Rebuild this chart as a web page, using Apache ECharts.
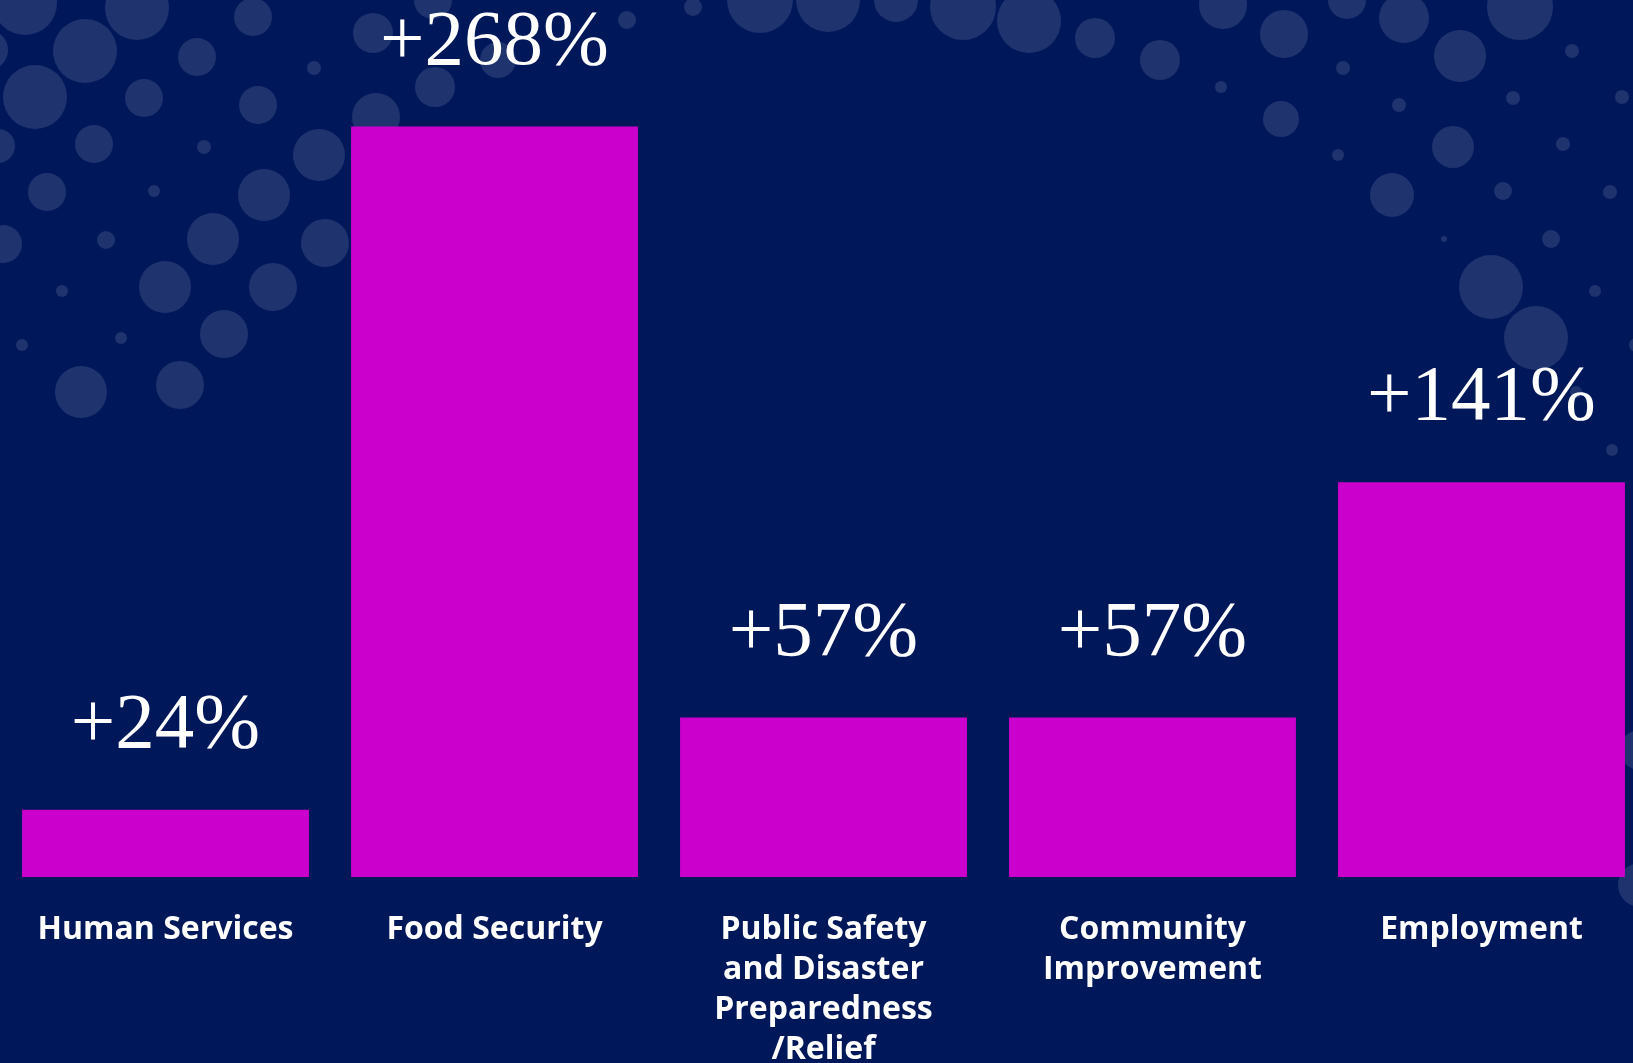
<!DOCTYPE html>
<html>
<head>
<meta charset="utf-8">
<script src="https://cdn.jsdelivr.net/npm/echarts@6/dist/echarts.min.js"></script>
<style>
html,body{margin:0;padding:0;background:#00185a;}
#chart{width:1633px;height:1063px;}
</style>
</head>
<body>
<div id="chart"></div>
<script>
var categories = ['Human Services', 'Food Security', 'Public Safety\nand Disaster\nPreparedness\n/Relief', 'Community\nImprovement', 'Employment'];
var values = [24, 268, 57, 57, 141];

// decorative background bubbles [x, y, r]
var bubbles = [
  [25,3,32],[137,8,32],[85,51,32],[-12,50,20],[35,97,32],[197,57,19],[253,17,19],[144,98,19],[314,68,7],
  [258,105,19],[-2,146,17],[94,144,19],[204,147,7],[319,155,26],[47,192,19],[154,191,6],[264,195,26],
  [3,244,19],[106,240,9],[213,239,26],[325,243,24],[62,291,6],[165,287,26],[273,287,24],[121,338,6],
  [22,345,6],[224,334,24],[81,392,26],[180,385,24],
  [373,33,20],[435,87,20],[498,60,18],[376,117,24],[627,20,9],[433,0,19],[693,7,9],
  [760,0,33],[828,0,32],[896,0,22],[963,7,33],[1029,21,32],[1095,38,20],[1160,60,20],
  [1223,5,24],[1284,34,24],[1347,0,19],[1404,18,25],[1520,7,33],[1460,56,26],[1221,87,6],[1343,68,7],
  [1399,105,7],[1572,51,7],[1513,98,7],[1622,97,7],[1281,119,18],[1338,155,6],[1453,147,21],[1563,144,7],
  [1392,195,22],[1503,191,9],[1610,192,7],[1444,239,3],[1551,239,9],[1491,287,32],[1595,291,6],
  [1536,338,32],[1636,345,7],[1576,392,6],[1612,450,6],[1640,750,20],[1640,885,22]
];

var chart = echarts.init(document.getElementById('chart'));
chart.setOption({
  backgroundColor: '#00185a',
  animation: false,
  graphic: bubbles.map(function (b) {
    return { type: 'circle', z: -10, silent: true, shape: { cx: b[0], cy: b[1], r: b[2] }, style: { fill: '#1f336f' } };
  }),
  grid: { left: 1, width: 1645, top: 37, bottom: 186, containLabel: false, outerBoundsMode: 'none' },
  xAxis: {
    type: 'category',
    data: categories,
    axisLine: { show: false },
    axisTick: { show: false },
    axisLabel: {
      interval: 0,
      margin: 33,
      color: '#ffffff',
      fontFamily: 'Open Sans',
      fontWeight: 'bold',
      fontSize: 32,
      lineHeight: 40,
      align: 'center'
    }
  },
  yAxis: { type: 'value', min: 0, max: 300, show: false, splitLine: { show: false } },
  series: [{
    type: 'bar',
    data: values,
    barCategoryGap: '12.8%',
    itemStyle: { color: '#cc00cc' },
    label: {
      show: true,
      position: 'top',
      distance: 44,
      formatter: '+{c}%',
      color: '#ffffff',
      fontFamily: 'Liberation Serif',
      fontSize: 79,
      lineHeight: 79
    }
  }]
});
</script>
</body>
</html>
